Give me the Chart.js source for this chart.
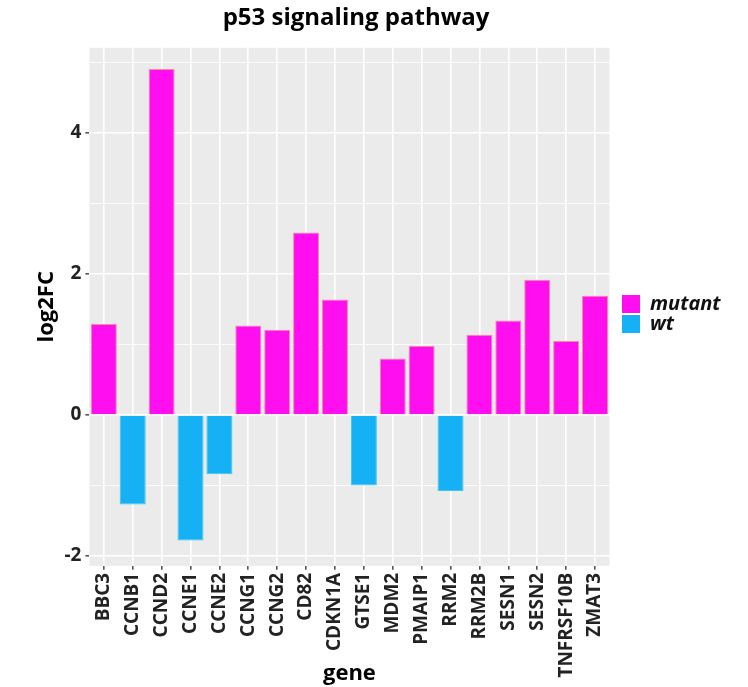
<!DOCTYPE html>
<html>
<head>
<meta charset="utf-8">
<script src="https://cdn.jsdelivr.net/npm/chart.js@4/dist/chart.umd.min.js"></script>
<style>
html,body{margin:0;padding:0;background:#fff;}
#wrap{width:748px;height:687px;position:relative;}
</style>
</head>
<body>
<div id="wrap"><canvas id="c" width="748" height="687"></canvas></div>
<script>
const genes = ["BBC3","CCNB1","CCND2","CCNE1","CCNE2","CCNG1","CCNG2","CD82","CDKN1A","GTSE1","MDM2","PMAIP1","RRM2","RRM2B","SESN1","SESN2","TNFRSF10B","ZMAT3"];
const log2FC = [1.29,-1.27,4.91,-1.78,-0.84,1.27,1.21,2.59,1.64,-1.0,0.80,0.98,-1.08,1.14,1.34,1.92,1.05,1.69];
const group = ["mutant","wt","mutant","wt","wt","mutant","mutant","mutant","mutant","wt","mutant","mutant","wt","mutant","mutant","mutant","mutant","mutant"];
const groups = ["mutant","wt"];
const yTicks = [-2,-1,0,1,2,3,4,5];
const yLabelTicks = [-2,0,2,4];

const colors = {mutant:"#FF0FEF", wt:"#16B1F4"};
const edge = {mutant:"#F58A9A", wt:"#3CC6E8"};
const FONT = "'Open Sans', Lato, 'DejaVu Sans', sans-serif";

const panelBg = {
  id:'panelBg',
  beforeDraw(chart){
    const a = chart.chartArea, ctx = chart.ctx;
    ctx.save();
    ctx.fillStyle = '#EBEBEB';
    ctx.fillRect(a.left, a.top, a.right-a.left, a.bottom-a.top);
    ctx.restore();
  }
};

// place title and legend like ggplot does
const placeBlocks = {
  id:'placeBlocks',
  afterLayout(chart){
    const t = chart.titleBlock;
    if (t) { const w = t.right - t.left; const cx = 356; t.left = cx - w/2; t.right = cx + w/2; }
    const l = chart.legend;
    if (l) {
      const dx = 622 - (l.left + l.options.labels.padding);
      l.left += dx; l.right += dx;
      const h = l.bottom - l.top; const ty = 294;
      l.top = ty - l.options.labels.padding; l.bottom = l.top + h;
    }
  }
};

const datasets = groups.map(g => ({
  label: g,
  data: log2FC.map((v,i) => group[i]===g ? v : null),
  backgroundColor: colors[g],
  borderColor: edge[g],
  borderWidth: 1,
  borderSkipped: 'start',
  barPercentage: 0.9,
  categoryPercentage: 1.0
}));

new Chart(document.getElementById('c'), {
  type: 'bar',
  data: { labels: genes, datasets },
  plugins: [panelBg, placeBlocks],
  options: {
    responsive: false,
    animation: false,
    layout: { padding: { left: 34, right: 30, top: 0, bottom: 0 } },
    plugins: {
      title: {
        display: true,
        text: 'p53 signaling pathway',
        color: '#000',
        font: { family: FONT, size: 24, weight: 'bold' },
        padding: { top: 4, bottom: 15 }
      },
      legend: {
        position: 'right',
        align: 'start',
        labels: {
          boxWidth: 18, boxHeight: 18, padding: 0,
          color: '#111',
          font: { family: FONT, size: 20, weight: 'bold', style: 'italic' },
          generateLabels(chart){
            return chart.data.datasets.map((d,i) => ({
              text: d.label, fillStyle: d.backgroundColor, strokeStyle: d.backgroundColor,
              lineWidth: 0, hidden: false, datasetIndex: i, fontColor: '#111'
            }));
          }
        }
      },
      tooltip: { enabled: false }
    },
    scales: {
      x: {
        stacked: true,
        offset: true,
        grid: {
          offset: false, color: '#FFFFFF', lineWidth: 1.6,
          drawTicks: true, tickLength: 4, tickColor: '#555'
        },
        border: { display: false },
        ticks: {
          minRotation: 90, maxRotation: 90, autoSkip: false, padding: 3,
          color: '#222',
          font: { family: FONT, size: 19, weight: 'bold' }
        },
        title: {
          display: true, text: 'gene', color: '#000',
          font: { family: FONT, size: 22, weight: 'bold' },
          padding: { top: -20, bottom: 0 }
        }
      },
      y: {
        stacked: true,
        min: -2.14, max: 5.21,
        afterBuildTicks(scale){ scale.ticks = yTicks.map(v => ({value: v})); },
        grid: {
          color: '#FFFFFF',
          lineWidth: ctx => (yLabelTicks.includes(ctx.tick && ctx.tick.value) ? 1.6 : 0.8),
          tickLength: 4,
          tickColor: ctx => (yLabelTicks.includes(ctx.tick && ctx.tick.value) ? '#555' : 'rgba(0,0,0,0)')
        },
        border: { display: false },
        ticks: {
          autoSkip: false,
          padding: 4,
          color: '#222',
          font: { family: FONT, size: 19, weight: 'bold' },
          callback: v => (yLabelTicks.includes(v) ? String(v) : '')
        },
        title: {
          display: true, text: 'log2FC', color: '#000',
          font: { family: FONT, size: 22, weight: 'bold' },
          padding: { top: 0, bottom: 0 }
        }
      }
    }
  }
});
</script>
</body>
</html>
